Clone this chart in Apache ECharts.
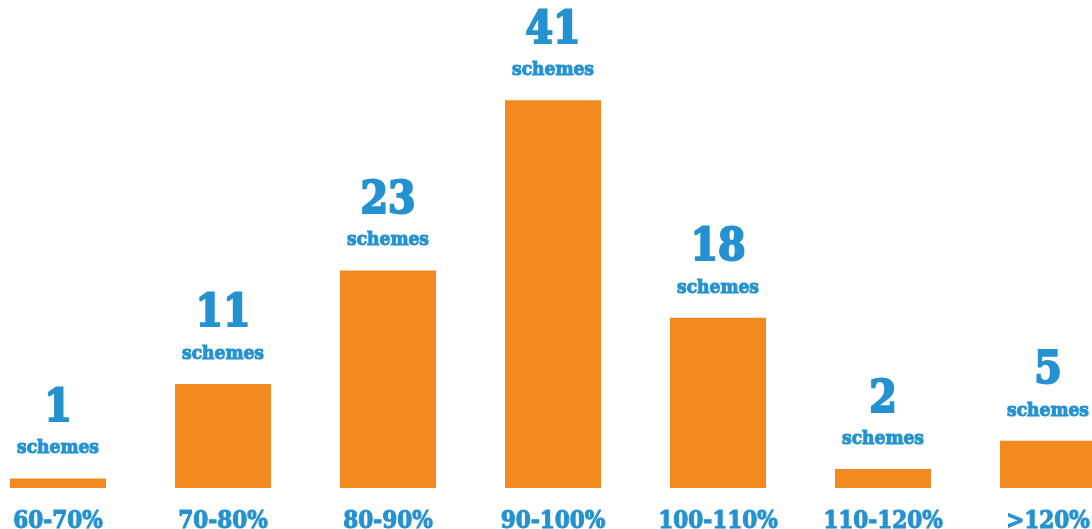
<!DOCTYPE html>
<html>
<head>
<meta charset="utf-8">
<script src="https://cdn.jsdelivr.net/npm/echarts@6/dist/echarts.min.js"></script>
<style>
  html, body { margin: 0; padding: 0; background: #ffffff; }
  #chart { width: 1092px; height: 529px; }
</style>
</head>
<body>
<div id="chart"></div>
<script>
// Coverage ranges and number of schemes in each
const categories = ['60-70%', '70-80%', '80-90%', '90-100%', '100-110%', '110-120%', '>120%'];
const schemeCounts = [1, 11, 23, 41, 18, 2, 5];
const unitLabel = 'schemes';

const ORANGE = '#F28A20';
const BLUE = '#2492D1';
const FONT = '"DejaVu Serif Condensed", "DejaVu Serif", serif';

const chart = echarts.init(document.getElementById('chart'), null, { renderer: 'canvas' });

chart.setOption({
  animation: false,
  backgroundColor: '#ffffff',
  grid: {
    left: -24.5, right: -38.5, top: 15, bottom: 41,
    outerBoundsMode: 'none',
    containLabel: false
  },
  xAxis: {
    type: 'category',
    data: categories,
    axisLine: { show: false },
    axisTick: { show: false },
    axisLabel: {
      color: BLUE,
      fontFamily: FONT,
      fontWeight: 'bold',
      fontSize: 24,
      margin: 22,
      textBorderColor: BLUE,
      textBorderWidth: 1
    }
  },
  yAxis: {
    type: 'value',
    min: 0,
    max: 50,
    show: false,
    splitLine: { show: false }
  },
  series: [{
    type: 'bar',
    data: schemeCounts,
    barWidth: 96,
    itemStyle: { color: ORANGE },
    label: {
      show: true,
      position: 'top',
      distance: 19,
      formatter: (p) => '{n|' + p.value + '}\n{s|' + unitLabel + '}',
      rich: {
        n: {
          color: BLUE,
          fontFamily: FONT,
          fontWeight: 'bold',
          fontSize: 44,
          lineHeight: 56,
          align: 'center',
          textBorderColor: BLUE,
          textBorderWidth: 2
        },
        s: {
          color: BLUE,
          fontFamily: FONT,
          fontWeight: 'bold',
          fontSize: 19,
          lineHeight: 22,
          align: 'center',
          textBorderColor: BLUE,
          textBorderWidth: 1
        }
      }
    }
  }]
});
</script>
</body>
</html>
